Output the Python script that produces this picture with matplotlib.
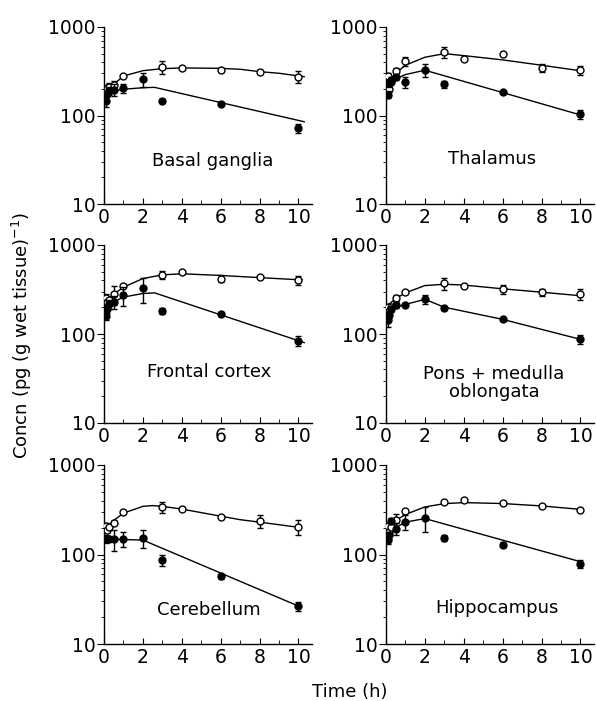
import matplotlib
matplotlib.use("Agg")
import matplotlib.pyplot as plt
from matplotlib.ticker import FixedLocator, NullFormatter, LogLocator

plt.rcParams['font.family'] = ['DejaVu Sans']

titles = ["Basal ganglia", "Thalamus", "Frontal cortex",
          "Pons + medulla\noblongata", "Cerebellum", "Hippocampus"]

t_open = [0.083, 0.167, 0.25, 0.5, 1, 3, 4, 6, 8, 10]
t_filled = [0.083, 0.167, 0.25, 0.5, 1, 2, 3, 6, 10]

# Open circles (mean, error)
open_basal = [190, 205, 210, 220, 280, 356, 348, 326, 312, 275]
open_basal_err = [20, 15, 20, 25, 10, 60, 8, 18, 15, 40]
open_thal = [280, 200, 240, 320, 410, 520, 430, 490, 345, 325]
open_thal_err = [20, 15, 15, 20, 50, 70, 10, 15, 35, 40]
open_front = [255, 230, 240, 280, 350, 460, 495, 420, 435, 400]
open_front_err = [25, 20, 20, 70, 15, 50, 10, 35, 12, 45]
open_pons = [203, 180, 200, 255, 294, 370, 350, 318, 294, 281]
open_pons_err = [15, 15, 15, 20, 10, 60, 12, 40, 25, 40]
open_cereb = [210, 186, 203, 227, 300, 340, 326, 262, 237, 205]
open_cereb_err = [15, 12, 15, 15, 10, 50, 10, 10, 40, 40]
open_hippo = [206, 178, 203, 240, 304, 387, 410, 380, 349, 312]
open_hippo_err = [10, 10, 12, 40, 10, 12, 12, 10, 10, 8]

# Filled circles (mean, error)
fill_basal = [145, 175, 190, 195, 203, 256, 147, 135, 72]
fill_basal_err = [20, 15, 20, 30, 25, 45, 6, 8, 8]
fill_thal = [172, 230, 250, 270, 240, 330, 225, 183, 104]
fill_thal_err = [15, 20, 20, 20, 35, 55, 20, 6, 12]
fill_front = [160, 190, 215, 230, 272, 325, 182, 168, 84]
fill_front_err = [15, 20, 25, 40, 65, 100, 15, 8, 10]
fill_pons = [144, 165, 190, 212, 212, 245, 194, 146, 88]
fill_pons_err = [25, 15, 15, 15, 8, 30, 10, 5, 10]
fill_cereb = [150, 150, 150, 150, 150, 152, 87, 57, 26.5]
fill_cereb_err = [15, 10, 10, 40, 30, 35, 12, 4, 3]
fill_hippo = [144, 165, 238, 195, 231, 258, 154, 129, 79]
fill_hippo_err = [12, 15, 20, 30, 45, 80, 12, 8, 8]

# Fitted curves
fit_open_t = [[0, 0.25, 0.5, 1, 2, 3, 4, 6, 7, 8, 9, 10.3],
              [0, 0.25, 0.5, 1, 2, 3, 4, 6, 8, 10.1],
              [0, 0.25, 0.5, 1, 2, 3, 4, 6, 8, 10.2],
              [0, 0.25, 0.5, 1, 2, 3, 4, 6, 8, 10.1],
              [0, 0.25, 0.5, 1, 2, 2.5, 3, 4, 6, 7, 8, 10.1],
              [0, 0.25, 0.5, 1, 2, 3, 4, 6, 8, 10.1]]
fit_open_v = [[186, 205, 225, 279, 321, 338, 345, 341, 333, 313, 300, 275],
              [230, 260, 300, 370, 455, 500, 475, 425, 370, 318],
              [230, 250, 280, 335, 420, 462, 475, 455, 430, 405],
              [200, 225, 250, 290, 350, 362, 355, 322, 295, 268],
              [200, 215, 240, 290, 345, 352, 345, 322, 268, 245, 230, 200],
              [190, 215, 240, 280, 340, 370, 380, 371, 349, 318]]
fit_fill_t = [[0, 0.1, 0.25, 0.5, 1, 2, 2.6, 10.3],
              [0, 0.25, 0.5, 1, 2, 10.1],
              [0, 0.25, 0.5, 1, 2, 2.6, 10.3],
              [0, 0.25, 0.5, 1, 2, 3, 6, 10.1],
              [0, 0.5, 1, 2, 10.1],
              [0, 0.25, 0.5, 1, 2, 10.1]]
fit_fill_v = [[140, 165, 180, 190, 198, 206, 208, 85],
              [200, 235, 260, 290, 325, 100],
              [165, 200, 230, 260, 285, 290, 80],
              [140, 175, 200, 215, 245, 200, 146, 86],
              [150, 148, 147, 145, 26],
              [150, 180, 200, 230, 252, 82]]

open_vals = [open_basal, open_thal, open_front, open_pons, open_cereb, open_hippo]
open_errs = [open_basal_err, open_thal_err, open_front_err, open_pons_err,
             open_cereb_err, open_hippo_err]
fill_vals = [fill_basal, fill_thal, fill_front, fill_pons, fill_cereb, fill_hippo]
fill_errs = [fill_basal_err, fill_thal_err, fill_front_err, fill_pons_err,
             fill_cereb_err, fill_hippo_err]

label_pos = [(0.524, 0.243), (0.512, 0.257), (0.507, 0.284),
             (0.519, 0.225), (0.505, 0.19), (0.534, 0.2)]

W, H = 596, 701
fig = plt.figure(figsize=(W / 100, H / 100), dpi=100)

col_x = [104, 386]
row_top = [27, 245, 465]
row_bot = [204, 423, 644]
ax_w = 208

for i in range(6):
    r, c = divmod(i, 2)
    left = col_x[c] / W
    bottom = 1 - row_bot[r] / H
    height = (row_bot[r] - row_top[r]) / H
    ax = fig.add_axes([left, bottom, ax_w / W, height])
    ax.set_yscale('log')
    ax.set_ylim(10, 1000)
    ax.set_xlim(0, 10.7)
    for s in ['top', 'right']:
        ax.spines[s].set_visible(False)
    for s in ['left', 'bottom']:
        ax.spines[s].set_linewidth(1.0)

    ax.plot(fit_open_t[i], fit_open_v[i], color='black', lw=1.0, zorder=2)
    ax.plot(fit_fill_t[i], fit_fill_v[i], color='black', lw=1.0, zorder=2)
    ax.errorbar(t_open, open_vals[i], yerr=open_errs[i], fmt='o', ms=5,
                mfc='white', mec='black', mew=1.0, ecolor='black',
                elinewidth=1.0, capsize=2.5, capthick=1.0, zorder=3)
    ax.errorbar(t_filled, fill_vals[i], yerr=fill_errs[i], fmt='o', ms=5,
                mfc='black', mec='black', ecolor='black',
                elinewidth=1.0, capsize=2.5, capthick=1.0, zorder=4)

    ax.set_xticks([0, 2, 4, 6, 8, 10])
    ax.set_xticklabels(['0', '2', '4', '6', '8', '10'])
    ax.xaxis.set_minor_locator(FixedLocator([1, 3, 5, 7, 9]))
    ax.tick_params(axis='x', which='major', direction='in', length=4,
                   labelsize=13.5, pad=3)
    ax.tick_params(axis='x', which='minor', direction='in', length=3)
    ax.set_yticks([10, 100, 1000])
    ax.set_yticklabels(['10', '100', '1000'])
    ax.yaxis.set_minor_locator(LogLocator(base=10, subs=range(2, 10)))
    ax.yaxis.set_minor_formatter(NullFormatter())
    ax.tick_params(axis='y', which='major', direction='out', length=5,
                   labelsize=13.5, pad=1)
    ax.tick_params(axis='y', which='minor', direction='out', length=2.5)

    ax.text(label_pos[i][0], label_pos[i][1], titles[i], transform=ax.transAxes,
            ha='center', va='center', fontsize=13, linespacing=1.05)

fig.text(22 / W, 1 - 335 / H, 'Concn (pg (g wet tissue)$^{-1}$)', rotation=90,
         ha='center', va='center', fontsize=13)
fig.text(350 / W, 1 - 692 / H, 'Time (h)', ha='center', va='center', fontsize=13)

fig.savefig('out.png', dpi=100)
